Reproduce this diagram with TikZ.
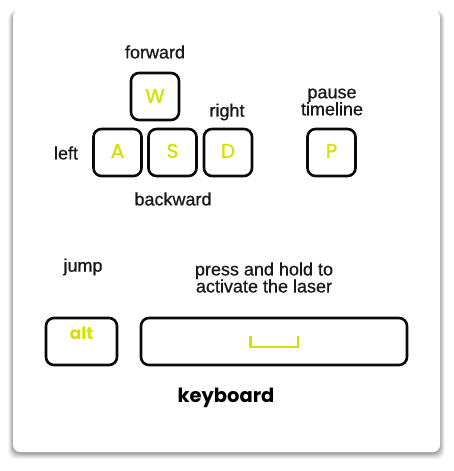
\documentclass[tikz,border=0pt]{standalone}
\usepackage{fontspec}
\setmainfont{Liberation Sans}
\newfontfamily\capfont{Liberation Sans}[FakeBold=0.7]
\newfontfamily\keyfont{Poppins}[FakeBold=1.2]
\newfontfamily\kbfont{Poppins}
\usetikzlibrary{positioning}
\definecolor{keyyellow}{RGB}{212,226,0}
\definecolor{keyline}{RGB}{10,10,10}
\tikzset{
  keybox/.style={draw=keyline, line width=2.6pt, rounded corners=8pt, fill=white},
  keylabel/.style={text=keyyellow, font=\keyfont\fontsize{20}{22}\selectfont},
  caption/.style={font=\capfont\fontsize{18}{20}\selectfont, text=black!90, align=center, inner sep=0pt},
}
\begin{document}
\begin{tikzpicture}[x=1pt,y=-1pt]
\useasboundingbox (0,0) rectangle (453,471);
% shadow
\foreach \i/\o in {7/0.03,6/0.04,5/0.05,4/0.06,3/0.07,2/0.08,1/0.09}{
  \fill[black, opacity=\o, rounded corners=8pt] (13-\i*0.7,12-\i*0.2) rectangle (440+\i*0.7,453+\i*0.9);
}
\node[draw=none, fill=white, rounded corners=7pt, minimum width=427pt, minimum height=442pt, inner sep=0pt] (card) at (226.5,231) {};
% keys
\node[keybox, minimum width=48pt, minimum height=47pt] (w) at (155,96.5) {};
\node[keybox, minimum width=48pt, minimum height=47pt] (a) at (117.5,152.5) {};
\node[keybox, minimum width=48pt, minimum height=47pt] (s) at (172.5,152.5) {};
\node[keybox, minimum width=48pt, minimum height=47pt] (d) at (228,152.5) {};
\node[keybox, minimum width=48pt, minimum height=47pt] (p) at (331.5,152.5) {};
\node[keybox, minimum width=71pt, minimum height=47pt] (alt) at (81.5,341.5) {};
\node[keybox, minimum width=266pt, minimum height=47pt] (space) at (274,341.5) {};
% key letters
\node[keylabel] at (155,96) {W};
\node[keylabel] at (117.5,151) {A};
\node[keylabel] at (172.5,151) {S};
\node[keylabel] at (228,151) {D};
\node[keylabel] at (331.5,151) {P};
\node[keylabel, font=\kbfont\bfseries\fontsize{17}{19}\selectfont] at (81.5,333) {alt};
\draw[keyyellow, line width=2.2pt] (250.5,335.5) coordinate (sp1) -- (250.5,347) coordinate (sp2) -- (298,347) coordinate (sp3) -- (298,335.5) coordinate (sp4);
% captions
\node[caption] (lforward) at (155,52) {forward};
\node[caption] (lright) at (227,112) {right};
\node[caption] (lpause) at (332,102) {pause\\[-3pt]timeline};
\node[caption] (lleft) at (66,153) {left};
\node[caption] (lback) at (173,199) {backward};
\node[caption] (ljump) at (83,267) {jump};
\node[caption] (lpress) at (264,277.5) {press and hold to\\[-3pt]activate the laser};
\node[caption, font=\kbfont\bfseries\fontsize{19.5}{21}\selectfont, text=black] (lkb) at (226,398) {keyboard};
\end{tikzpicture}
\end{document}
